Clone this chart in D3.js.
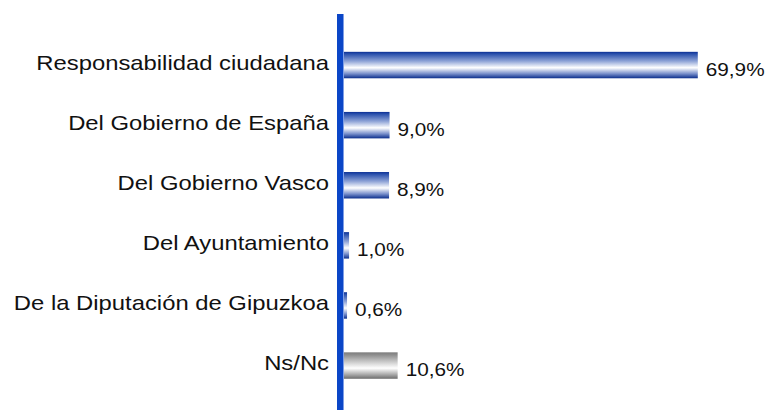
<!DOCTYPE html>
<html><head><meta charset="utf-8">
<script src="https://cdn.jsdelivr.net/npm/d3@7"></script>
<style>html,body{margin:0;padding:0;background:#fff;}svg{display:block;}</style>
</head><body>
<svg id="chart" width="769" height="410"></svg>
<script>
const categories = ["Responsabilidad ciudadana","Del Gobierno de España","Del Gobierno Vasco","Del Ayuntamiento","De la Diputación de Gipuzkoa","Ns/Nc"];
const values = [69.9, 9.0, 8.9, 1.0, 0.6, 10.6];
const valueLabels = ["69,9%","9,0%","8,9%","1,0%","0,6%","10,6%"];
const isGrey = [false,false,false,false,false,true];

const svg = d3.select("#chart");
const font = "'Liberation Sans', Arial, sans-serif";

const y = d3.scaleBand().domain(categories).range([35, 395.6]).paddingInner(0.56).paddingOuter(0.28);
const x = d3.scaleLinear().domain([0, 70]).range([344, 698.3]);

const defs = svg.append("defs");
const gb = defs.append("linearGradient").attr("id","gBlue").attr("x1",0).attr("y1",0).attr("x2",0).attr("y2",1);
[[0,"#0b2f94"],[0.08,"#2a50ac"],[0.35,"#8da2d6"],[0.6,"#ffffff"],[0.82,"#7d93cd"],[1,"#0a2d8c"]].forEach(s=>gb.append("stop").attr("offset",s[0]).attr("stop-color",s[1]));
const gg = defs.append("linearGradient").attr("id","gGrey").attr("x1",0).attr("y1",0).attr("x2",0).attr("y2",1);
[[0,"#7c7c7c"],[0.1,"#8e8e8e"],[0.35,"#c8c8c8"],[0.6,"#ffffff"],[0.82,"#b0b0b0"],[1,"#6c6c6c"]].forEach(s=>gg.append("stop").attr("offset",s[0]).attr("stop-color",s[1]));

svg.selectAll("rect.bar").data(categories).join("rect").attr("class","bar")
  .attr("x", x(0)).attr("y", d=>y(d)).attr("height", y.bandwidth())
  .attr("width", (d,i)=>x(values[i])-x(0))
  .attr("fill", (d,i)=>isGrey[i]?"url(#gGrey)":"url(#gBlue)");

// axis line
svg.append("rect").attr("x",337).attr("y",14).attr("width",6).attr("height",396).attr("fill","#0b46c7");
svg.append("rect").attr("x",343).attr("y",14).attr("width",1).attr("height",396).attr("fill","#7f9ee6");

svg.selectAll("text.cat").data(categories).join("text").attr("class","cat")
  .attr("transform", d=>`translate(329,${y(d)+y.bandwidth()/2+4.5}) scale(1.18,1)`)
  .attr("text-anchor","end").attr("font-family",font).attr("font-size",20.2).attr("fill","#111")
  .text(d=>d);

svg.selectAll("text.val").data(categories).join("text").attr("class","val")
  .attr("transform", (d,i)=>`translate(${x(values[i])+8},${y(d)+y.bandwidth()/2+10.5}) scale(1.14,1)`)
  .attr("font-family",font).attr("font-size",18.2).attr("fill","#111")
  .text((d,i)=>valueLabels[i]);
</script>
</body></html>
